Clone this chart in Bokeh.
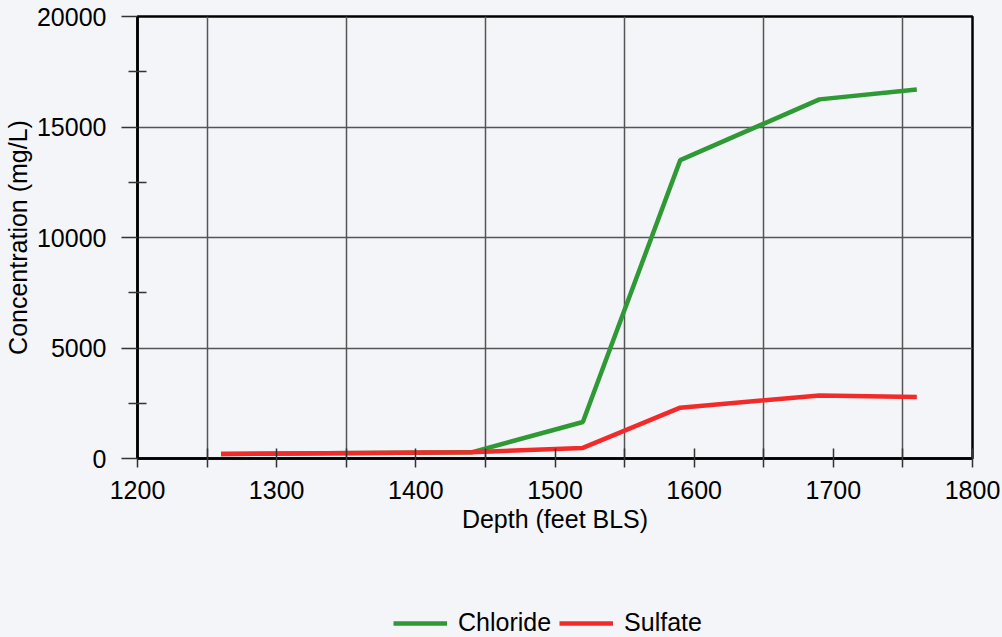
from bokeh.plotting import figure
from bokeh.layouts import column
from bokeh.models import FixedTicker, NumeralTickFormatter, Legend, LegendItem
from bokeh.embed import file_html
from bokeh.resources import INLINE

# Sample depths (feet below land surface) and measured concentrations (mg/L)
depth_ft = [1260, 1440, 1520, 1590, 1690, 1760]
chloride_mg_l = [200, 280, 1650, 13500, 16250, 16700]
sulfate_mg_l = [200, 280, 480, 2300, 2850, 2780]

x_ticks = [1200, 1300, 1400, 1500, 1600, 1700, 1800]
x_half_ticks = [1250, 1350, 1450, 1550, 1650, 1750]
y_ticks = [0, 5000, 10000, 15000, 20000]
y_half_ticks = [2500, 7500, 12500, 17500]

FONT = "Liberation Sans"
PAPER = "#f3f5f8"
CHL_COLOR = "#2f9a35"
SUL_COLOR = "#f22a2a"

p = figure(
    width=1002, height=590,
    x_range=(1200, 1800), y_range=(0, 20000),
    output_backend="svg", toolbar_location=None,
    min_border_left=135, min_border_right=30,
    min_border_top=16, min_border_bottom=132,
    background_fill_color=PAPER, border_fill_color=PAPER,
)
p.outline_line_color = "black"
p.outline_line_width = 2.5

# grid: horizontal lines at labelled values, vertical lines at the half-hundreds
p.ygrid.ticker = FixedTicker(ticks=y_ticks)
p.xgrid.ticker = FixedTicker(ticks=x_half_ticks)
for g in (p.xgrid, p.ygrid):
    g.grid_line_color = "#555555"
    g.grid_line_width = 1.5

xa = p.xaxis[0]
xa.ticker = FixedTicker(ticks=x_ticks, minor_ticks=x_half_ticks)
xa.axis_label = "Depth (feet BLS)"
xa.major_tick_in = 10
xa.major_tick_out = 9
xa.minor_tick_in = 10
xa.minor_tick_out = 9
xa.major_label_standoff = 13
xa.axis_label_standoff = 3

ya = p.yaxis[0]
ya.ticker = FixedTicker(ticks=y_ticks, minor_ticks=y_half_ticks)
ya.formatter = NumeralTickFormatter(format="0")
ya.axis_label = "Concentration (mg/L)"
ya.major_tick_in = 0
ya.major_tick_out = 16
ya.minor_tick_in = 9
ya.minor_tick_out = 9
ya.major_label_standoff = 15
ya.axis_label_standoff = 2

for ax in (xa, ya):
    ax.axis_line_color = "black"
    ax.axis_line_width = 2.5
    ax.major_tick_line_color = "#333333"
    ax.major_tick_line_width = 1.5
    ax.minor_tick_line_color = "#333333"
    ax.minor_tick_line_width = 1.5
    ax.major_label_text_font = FONT
    ax.major_label_text_font_size = "25px"
    ax.major_label_text_color = "black"
    ax.axis_label_text_font = FONT
    ax.axis_label_text_font_size = "25px"
    ax.axis_label_text_font_style = "normal"
    ax.axis_label_text_color = "black"

p.line(depth_ft, chloride_mg_l, line_color=CHL_COLOR, line_width=4.5)
p.line(depth_ft, sulfate_mg_l, line_color=SUL_COLOR, line_width=4.5)

# strip under the chart carrying the key; its lines lie outside its visible range
key = figure(
    width=1002, height=47,
    x_range=(1200, 1800), y_range=(50000, 60000),
    x_axis_type=None, y_axis_type=None,
    output_backend="svg", toolbar_location=None,
    min_border=0, background_fill_color=PAPER, border_fill_color=PAPER,
)
key.outline_line_color = None
key.grid.visible = False
k_chl = key.line(depth_ft, chloride_mg_l, line_color=CHL_COLOR, line_width=4.5)
k_sul = key.line(depth_ft, sulfate_mg_l, line_color=SUL_COLOR, line_width=4.5)

legend = Legend(
    items=[LegendItem(label="Chloride", renderers=[k_chl]),
           LegendItem(label="Sulfate", renderers=[k_sul])],
    orientation="horizontal", location=(256, 0),
    glyph_width=54, glyph_height=20, label_standoff=11, spacing=8,
    label_text_font=FONT, label_text_font_size="25px", label_text_color="black",
    border_line_color=None, background_fill_alpha=0, margin=0, padding=2,
)
key.add_layout(legend, "center")

layout = column(p, key, spacing=0, background=PAPER)
open("out.html", "w").write(file_html(layout, INLINE))
